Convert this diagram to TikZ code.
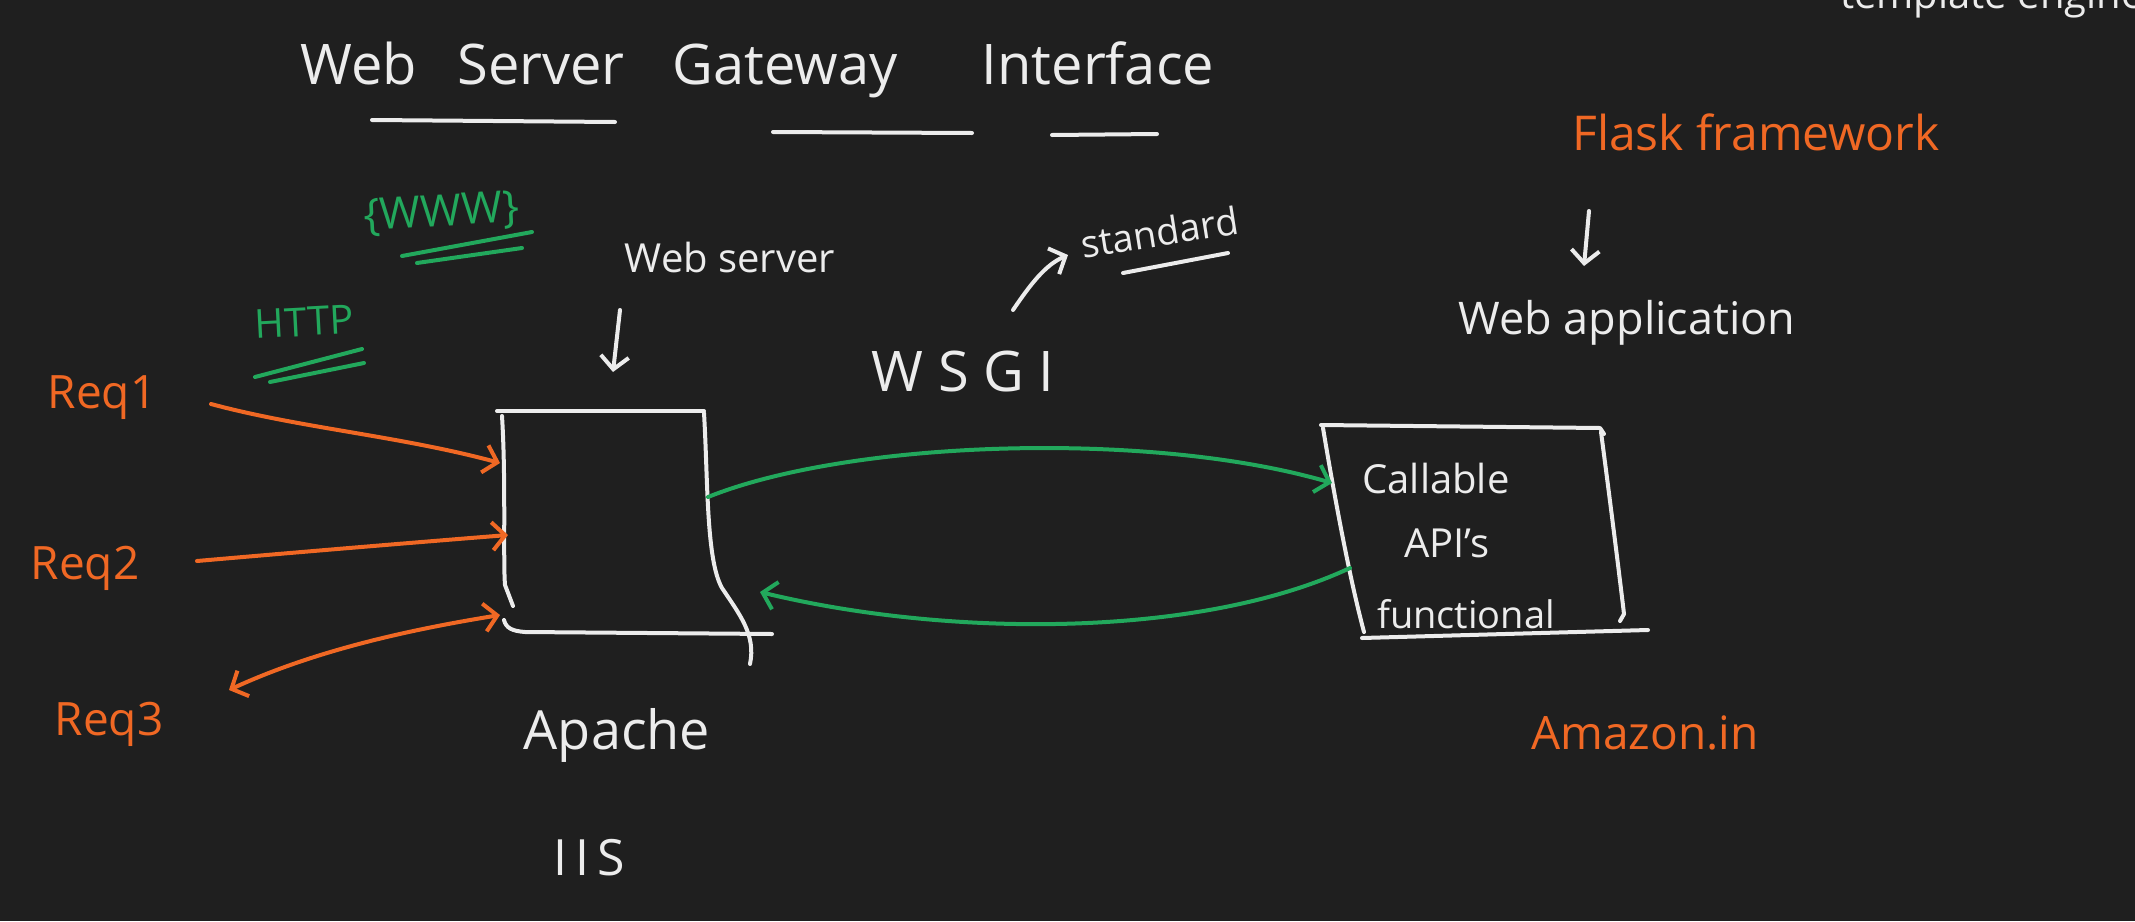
\documentclass[tikz,border=0pt]{standalone}
\usepackage{fontspec}
\setmainfont{Open Sans}
\usetikzlibrary{arrows.meta}
\definecolor{boardbg}{RGB}{31,31,31}
\definecolor{chalk}{RGB}{236,236,236}
\definecolor{penorange}{RGB}{240,104,36}
\definecolor{pengreen}{RGB}{34,168,92}
\newcommand{\fsz}[1]{\fontsize{#1}{#1}\selectfont}

\begin{document}
\begin{tikzpicture}[x=1pt,y=-1pt,
  ink/.style={line width=4pt,line cap=round,line join=round},
  penarrow/.style={-{Straight Barb[length=13pt,width=28pt]}},
  bothways/.style={{Straight Barb[length=13pt,width=28pt]}-{Straight Barb[length=13pt,width=28pt]}},
  chalktext/.style={inner sep=0pt,anchor=base,text=chalk},
  orangetext/.style={inner sep=0pt,anchor=base,text=penorange},
  greentext/.style={inner sep=0pt,anchor=base,text=pengreen}]
  \fill[boardbg] (0,0) rectangle (2135,921);
  \useasboundingbox (0,0) rectangle (2135,921);

  \node[chalktext,font=\fsz{56}] (tweb) at (359,84) {Web};
  \node[chalktext,font=\fsz{56}] (tserver) at (541,84) {Server};
  \node[chalktext,font=\fsz{56}] (tgateway) at (785,84) {Gateway};
  \node[chalktext,font=\fsz{56}] (tinterface) at (1098,84) {Interface};
  \draw[ink,chalk] (372,120) -- (615,122);
  \draw[ink,chalk] (773,132) -- (972,133);
  \draw[ink,chalk] (1052,135) -- (1157,134);

  \node[chalktext,font=\fsz{40}] (engine) at (1840,8) [anchor=base west] {template engine};

  \node[greentext,font=\fsz{44},rotate=3] (www) at (442,226) {\{WWW\}};
  \draw[ink,pengreen] (402,256) -- (532,232);
  \draw[ink,pengreen] (417,263) -- (522,248);
  \node[greentext,font=\fsz{40},rotate=3] (http) at (305,336) {HTTP};
  \draw[ink,pengreen] (255,377) -- (362,349);
  \draw[ink,pengreen] (270,382) -- (364,363);

  \node[orangetext,font=\fsz{46}] (req1) at (102,408) {Req1};
  \node[orangetext,font=\fsz{46}] (req2) at (85,579) {Req2};
  \node[orangetext,font=\fsz{46}] (req3) at (109,735) {Req3};

  \node[chalktext,font=\fsz{40}] (webserver) at (730,272) {Web server};
  \node[chalktext,font=\fsz{56}] (wsgi) at (963,391) {W S G I};
  \node[chalktext,font=\fsz{38},rotate=9] (standard) at (1162,246) {standard};
  \draw[ink,chalk] (1123,273) -- (1228,253);

  \node[orangetext,font=\fsz{48}] (flask) at (1756,150) {Flask framework};
  \node[chalktext,font=\fsz{45}] (webapp) at (1627,334) {Web application};

  \node[chalktext,font=\fsz{40}] (callable) at (1436,493) {Callable};
  \node[chalktext,font=\fsz{40}] (apis) at (1447,557) {API's};
  \node[chalktext,font=\fsz{38}] (functional) at (1466,628) {functional};

  \node[chalktext,font=\fsz{54}] (apache) at (617,749) {Apache};
  \node[chalktext,font=\fsz{50}] (iis) at (589,875) {I\,I\,S};
  \node[orangetext,font=\fsz{46}] (amazon) at (1645,749) {Amazon.in};

  % web server box
  \draw[ink,chalk] (497,411) -- (704,411);
  \draw[ink,chalk] (502,416) .. controls (506,480) and (503,560) .. (505,585) -- (513,606);
  \draw[ink,chalk] (504,620) .. controls (506,628) and (512,631) .. (525,632) -- (772,634);
  \draw[ink,chalk] (704,413) .. controls (708,480) and (706,560) .. (722,588) .. controls (740,615) and (756,635) .. (750,664);

  % application box
  \draw[ink,chalk] (1321,425) -- (1600,428) -- (1604,434);
  \draw[ink,chalk] (1323,428) .. controls (1335,500) and (1350,580) .. (1364,632);
  \draw[ink,chalk] (1601,432) .. controls (1610,500) and (1620,580) .. (1624,614) -- (1620,621);
  \draw[ink,chalk] (1362,638) -- (1648,630);

  \coordinate (r1tail) at (211,404);
  \coordinate (r2tail) at (197,561);
  \coordinate (r3tail) at (229,690);
  \coordinate (apin1) at (500,463);
  \coordinate (apin2) at (508,535);
  \coordinate (apin3) at (500,615);
  \coordinate (apout) at (708,497);
  \coordinate (apback) at (760,592);
  \coordinate (appin) at (1332,483);
  \coordinate (appout) at (1350,568);
  \coordinate (wstail) at (620,310);
  \coordinate (wshead) at (613,372);
  \coordinate (fltail) at (1589,211);
  \coordinate (flhead) at (1584,266);
  \coordinate (sttail) at (1013,310);
  \coordinate (sthead) at (1068,255);

  \draw[ink,penorange,penarrow] (r1tail) .. controls (300,428) and (400,436) .. (apin1);
  \draw[ink,penorange,penarrow] (r2tail) .. controls (300,552) and (420,542) .. (apin2);
  \draw[ink,penorange,bothways] (r3tail) .. controls (320,648) and (420,628) .. (apin3);

  \draw[ink,pengreen,penarrow] (apout) .. controls (850,440) and (1150,430) .. (appin);
  \draw[ink,pengreen,penarrow] (appout) .. controls (1200,638) and (950,638) .. (apback);

  \draw[ink,chalk,penarrow] (wstail) -- (wshead);
  \draw[ink,chalk,penarrow] (fltail) -- (flhead);
  \draw[ink,chalk,penarrow] (sttail) .. controls (1030,285) and (1045,265) .. (sthead);
\end{tikzpicture}
\end{document}
